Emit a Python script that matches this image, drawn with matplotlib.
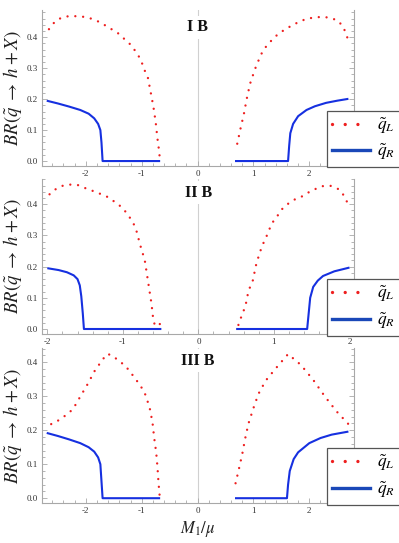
import numpy as np
import matplotlib.pyplot as plt
import matplotlib.transforms as mtransforms
from matplotlib.lines import Line2D
from matplotlib.ticker import MultipleLocator, FormatStrFormatter

plt.rcParams['mathtext.fontset'] = 'stix'
plt.rcParams['font.family'] = ['Liberation Serif', 'DejaVu Serif']

# ---- panel I B ----
p1_L_left_x = [-2.66, -2.56, -2.44, -2.31, -2.18, -2.04, -1.90, -1.78, -1.66, -1.55, -1.43,
               -1.34, -1.23, -1.14, -1.06, -1.00, -0.95, -0.89, -0.84, -0.79, -0.75, -0.72, -0.70, -0.67]
p1_L_left_y = [0.426, 0.449, 0.463, 0.468, 0.468, 0.466, 0.460, 0.451, 0.439, 0.427, 0.414,
               0.399, 0.382, 0.362, 0.341, 0.319, 0.294, 0.270, 0.223, 0.175, 0.126, 0.075, 0.049, 0.0]
p1_L_right_x = [0.71, 0.77, 0.83, 0.88, 0.94, 1.03, 1.13, 1.19, 1.28, 1.37, 1.47, 1.59,
                1.71, 1.83, 1.96, 2.10, 2.24, 2.36, 2.50, 2.59, 2.65, 2.70]
p1_L_right_y = [0.056, 0.106, 0.153, 0.201, 0.250, 0.298, 0.342, 0.362, 0.381, 0.399, 0.414, 0.428,
                0.440, 0.451, 0.460, 0.464, 0.466, 0.463, 0.455, 0.438, 0.416, 0.388]
p1_R_left_x = [-2.70, -2.50, -2.30, -2.10, -1.95, -1.85, -1.78, -1.74, -1.72, -1.70, -0.67]
p1_R_left_y = [0.195, 0.186, 0.176, 0.165, 0.153, 0.138, 0.120, 0.100, 0.060, 0.0, 0.0]
p1_R_right_x = [0.67, 1.62, 1.64, 1.66, 1.71, 1.80, 1.95, 2.10, 2.30, 2.50, 2.70]
p1_R_right_y = [0.0, 0.0, 0.050, 0.090, 0.120, 0.145, 0.165, 0.177, 0.188, 0.195, 0.201]

# ---- panel II B ----
p2_L_left_x = [-1.97, -1.89, -1.80, -1.70, -1.60, -1.50, -1.40, -1.22, -1.06, -0.98, -0.92,
               -0.86, -0.82, -0.77, -0.71, -0.68, -0.65, -0.62, -0.60, -0.58, -0.55, -0.49]
p2_L_left_y = [0.432, 0.448, 0.459, 0.463, 0.462, 0.452, 0.443, 0.426, 0.400, 0.381, 0.362,
               0.339, 0.315, 0.269, 0.221, 0.174, 0.127, 0.080, 0.036, 0.015, 0.008, 0.020]
p2_L_right_x = [0.53, 0.56, 0.60, 0.63, 0.65, 0.68, 0.72, 0.74, 0.76, 0.79, 0.82, 0.86, 0.90, 0.94,
                0.98, 1.05, 1.11, 1.19, 1.28, 1.37, 1.45, 1.55, 1.64, 1.75, 1.86, 1.93, 1.98, 2.00]
p2_L_right_y = [0.013, 0.034, 0.059, 0.082, 0.107, 0.132, 0.155, 0.178, 0.202, 0.227, 0.250, 0.275, 0.296, 0.320,
                0.341, 0.364, 0.385, 0.402, 0.416, 0.425, 0.437, 0.449, 0.458, 0.459, 0.448, 0.427, 0.401, 0.387]
p2_R_left_x = [-2.00, -1.85, -1.74, -1.65, -1.60, -1.57, -1.55, -1.53, -1.515, -0.49]
p2_R_left_y = [0.195, 0.189, 0.182, 0.172, 0.160, 0.140, 0.105, 0.050, 0.0, 0.0]
p2_R_right_x = [0.50, 1.44, 1.46, 1.48, 1.52, 1.58, 1.65, 1.80, 2.00]
p2_R_right_y = [0.0, 0.0, 0.050, 0.100, 0.135, 0.155, 0.170, 0.185, 0.197]

# ---- panel III B ----
p3_L_left_x = [-2.62, -2.49, -2.35, -2.23, -2.11, -1.97, -1.84, -1.69, -1.61, -1.50, -1.29,
               -1.11, -0.955, -0.86, -0.807, -0.777, -0.741, -0.717, -0.70, -0.675]
p3_L_left_y = [0.218, 0.229, 0.245, 0.262, 0.296, 0.335, 0.375, 0.410, 0.425, 0.416, 0.389,
               0.351, 0.314, 0.268, 0.223, 0.178, 0.135, 0.090, 0.047, 0.0]
p3_L_right_x = [0.68, 0.74, 0.80, 0.85, 0.91, 1.00, 1.09, 1.22, 1.40, 1.62, 1.85, 2.07, 2.28, 2.49, 2.70]
p3_L_right_y = [0.044, 0.086, 0.130, 0.174, 0.219, 0.265, 0.307, 0.346, 0.382, 0.424, 0.392, 0.348, 0.299, 0.255, 0.218]
p3_R_left_x = [-2.70, -2.50, -2.30, -2.10, -1.95, -1.85, -1.78, -1.74, -1.72, -1.70, -0.67]
p3_R_left_y = [0.192, 0.183, 0.173, 0.162, 0.150, 0.137, 0.120, 0.100, 0.050, 0.0, 0.0]
p3_R_right_x = [0.67, 1.60, 1.62, 1.65, 1.72, 1.80, 2.00, 2.20, 2.40, 2.70]
p3_R_right_y = [0.0, 0.0, 0.040, 0.080, 0.115, 0.135, 0.162, 0.177, 0.187, 0.196]

panel_labels = ['I B', 'II B', 'III B']
xlims = [(-2.79, 2.80), (-2.07, 2.06), (-2.79, 2.80)]
ylims = [(-0.016, 0.488), (-0.017, 0.481), (-0.015, 0.441)]

red = '#ee1f1f'
blue = '#1630e0'
gray = '#a8a8a8'

W, H = 399, 543
fig = plt.figure(figsize=(W / 100, H / 100), dpi=100)

# axes boxes in pixels: left, top, right, bottom
boxes = [(41.7, 10, 354, 166), (42, 179, 354, 334.3), (41.7, 348.3, 354, 503.3)]
legend_boxes = [(327, 111, 398, 167), (327, 280, 398, 335), (327, 448, 398, 505)]
label_y = [0.89, 0.91, 0.92]

data = [
    (p1_L_left_x, p1_L_left_y, p1_L_right_x, p1_L_right_y, p1_R_left_x, p1_R_left_y, p1_R_right_x, p1_R_right_y),
    (p2_L_left_x, p2_L_left_y, p2_L_right_x, p2_L_right_y, p2_R_left_x, p2_R_left_y, p2_R_right_x, p2_R_right_y),
    (p3_L_left_x, p3_L_left_y, p3_L_right_x, p3_L_right_y, p3_R_left_x, p3_R_left_y, p3_R_right_x, p3_R_right_y),
]

dot_style = dict(color=red, lw=1.7, linestyle=(0, (0.01, 3.3)), dash_capstyle='round')
line_style = dict(color=blue, lw=1.5, solid_capstyle='butt')

for i in range(3):
    l, t, r, b = boxes[i]
    ax = fig.add_axes([l / W, 1 - b / H, (r - l) / W, (b - t) / H])
    Lx, Ly, Lx2, Ly2, Rx, Ry, Rx2, Ry2 = data[i]

    ax.axvline(0, color='#d0d0d0', lw=0.8, zorder=0)
    ax.plot(Rx, Ry, **line_style)
    ax.plot(Rx2, Ry2, **line_style)
    ax.plot(Lx, Ly, **dot_style)
    ax.plot(Lx2, Ly2, **dot_style)

    ax.set_xlim(*xlims[i])
    ax.set_ylim(*ylims[i])

    ax.spines['top'].set_visible(False)
    for s in ['left', 'right', 'bottom']:
        ax.spines[s].set_color(gray)
        ax.spines[s].set_linewidth(0.8)

    ax.xaxis.set_major_locator(MultipleLocator(1))
    ax.xaxis.set_minor_locator(MultipleLocator(0.2))
    ax.yaxis.set_major_locator(MultipleLocator(0.1))
    ax.yaxis.set_minor_locator(MultipleLocator(0.02))
    ax.yaxis.set_major_formatter(FormatStrFormatter('%.1f'))
    ax.xaxis.set_major_formatter(FormatStrFormatter('%d'))
    ax.tick_params(which='both', direction='in', color=gray, width=0.6,
                   labelsize=6.5, labelcolor='#333333', top=False, right=True)
    ax.tick_params(which='major', length=3.5, pad=3)
    ax.tick_params(which='minor', length=2)

    ax.set_ylabel(r'$BR(\tilde{q}\;\rightarrow\; h+X)$', fontsize=13.5, color='#222222')
    ax.yaxis.set_label_coords(-0.058, 0.5)

    trans = mtransforms.blended_transform_factory(ax.transData, ax.transAxes)
    ax.text(0, label_y[i], panel_labels[i], transform=trans, ha='center', va='center',
            fontsize=11.5, fontweight='bold', color='#111111',
            bbox=dict(facecolor='white', edgecolor='none', pad=2.5))

    lx0, ly0, lx1, ly1 = legend_boxes[i]
    handles = [Line2D([], [], color=red, lw=2.4, linestyle=(0, (0.01, 3.8)), dash_capstyle='round'),
               Line2D([], [], color='#1a48b8', lw=2.4)]
    leg = ax.legend(handles, [r'$\tilde{q}_L$', r'$\tilde{q}_R$'],
                    loc='center left',
                    bbox_to_anchor=(lx0 / W, 1 - (ly0 + ly1) / 2 / H),
                    bbox_transform=fig.transFigure,
                    fontsize=12.5, fancybox=False, framealpha=1, edgecolor='#555555',
                    handlelength=2.2, handletextpad=0.4, labelspacing=0.35,
                    borderpad=0.3, borderaxespad=0)
    leg.get_frame().set_linewidth(0.9)

ax.set_xlabel(r'$M_1/\mu$', fontsize=12, color='#222222')
ax.xaxis.set_label_coords(0.5, -0.10)

fig.savefig('out.png', dpi=100)
